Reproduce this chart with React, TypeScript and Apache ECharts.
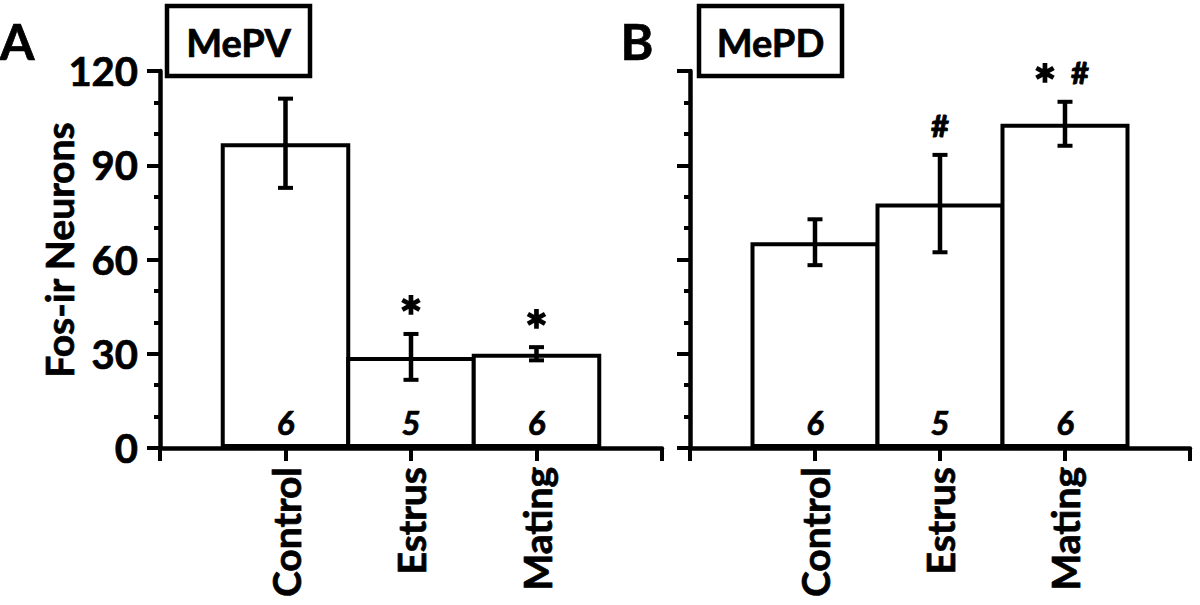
import React, { useEffect, useRef } from 'react';
import * as echarts from 'echarts';

// ---- data ----
const categories = ['Control', 'Estrus', 'Mating'];
const mepvMeans = [97, 29, 30];
const mepvSem = [14.2, 7.3, 2.1];
const mepdMeans = [65.5, 77.8, 103.2];
const mepdSem = [7.3, 15.5, 7.0];
const mepvN = [6, 5, 6];
const mepdN = [6, 5, 6];
const mepvSig = [[], ['*'], ['*']];
const mepdSig = [[], ['#'], ['*', '#']];
const yMin = 0;
const yMax = 120;
const yInterval = 30;
const panelTitles = ['MePV', 'MePD'];
const panelLetters = ['A', 'B'];
const yAxisTitle = 'Fos-ir Neurons';

const FONT = 'Lato';
const BLACK = '#000';
const HEAVY = { textBorderColor: BLACK, textBorderWidth: 0.7 };

function buildOption() {
  const panels = [
    { means: mepvMeans, sem: mepvSem, n: mepvN, sig: mepvSig },
    { means: mepdMeans, sem: mepdSem, n: mepdN, sig: mepdSig },
  ];
  const grids = [
    { left: 160, top: 71, width: 502, height: 377 },
    { left: 690, top: 71, width: 500, height: 377 },
  ];
  const xAxes = grids.map((_, g) => ({
    type: 'category',
    gridIndex: g,
    data: ['', ...categories, ''],
    boundaryGap: false,
    axisLine: { show: true, lineStyle: { color: BLACK, width: 4.5 } },
    axisTick: { show: true, interval: 0, length: 13, lineStyle: { color: BLACK, width: 4 } },
    axisLabel: {
      interval: 0,
      rotate: 90,
      margin: 19,
      color: BLACK,
      fontFamily: FONT,
      fontWeight: 'bold',
      fontSize: 39,
      ...HEAVY,
    },
    splitLine: { show: false },
  }));
  const yAxes = grids.map((_, g) => ({
    type: 'value',
    gridIndex: g,
    min: yMin,
    max: yMax,
    interval: yInterval,
    name: g === 0 ? yAxisTitle : '',
    nameLocation: 'middle',
    nameRotate: 90,
    nameGap: 82,
    nameMoveOverlap: false,
    nameTextStyle: {
      color: BLACK,
      fontFamily: FONT,
      fontWeight: 'bold',
      fontSize: 39,
      padding: [0, 0, 0, 19],
      ...HEAVY,
    },
    axisLine: { show: true, lineStyle: { color: BLACK, width: 4.5 } },
    axisTick: { show: true, length: 13, lineStyle: { color: BLACK, width: 4 } },
    minorTick: { show: true, splitNumber: 3, length: 6, lineStyle: { color: BLACK, width: 4 } },
    splitLine: { show: false },
    axisLabel: {
      show: g === 0,
      margin: 22,
      color: BLACK,
      fontFamily: FONT,
      fontWeight: 'bold',
      fontSize: 40,
      ...HEAVY,
    },
  }));

  const series: any[] = [];
  panels.forEach((p, g) => {
    series.push({
      type: 'bar',
      xAxisIndex: g,
      yAxisIndex: g,
      data: ['-', ...p.means, '-'],
      barWidth: '103.2%',
      silent: true,
      itemStyle: { color: '#fff', borderColor: BLACK, borderWidth: 4 },
      label: {
        show: true,
        position: 'insideBottom',
        distance: 10,
        formatter: (params: any) => String(p.n[params.dataIndex - 1]),
        color: BLACK,
        fontFamily: FONT,
        fontWeight: 'bold',
        fontStyle: 'italic',
        fontSize: 33,
        ...HEAVY,
      },
      z: 2,
    });
    series.push({
      type: 'custom',
      xAxisIndex: g,
      yAxisIndex: g,
      silent: true,
      z: 3,
      data: p.means.map((m, i) => [i + 1, m, p.sem[i]]),
      encode: { x: 0, y: 1 },
      renderItem: (params: any, api: any) => {
        const x = api.value(0);
        const m = api.value(1);
        const s = api.value(2);
        const top = api.coord([x, m + s]);
        const bot = api.coord([x, m - s]);
        const cap = 7.5;
        const children: any[] = [
          { type: 'line', shape: { x1: top[0], y1: top[1], x2: bot[0], y2: bot[1] }, style: { stroke: BLACK, lineWidth: 4.5 } },
          { type: 'line', shape: { x1: top[0] - cap, y1: top[1], x2: top[0] + cap, y2: top[1] }, style: { stroke: BLACK, lineWidth: 4 } },
          { type: 'line', shape: { x1: bot[0] - cap, y1: bot[1], x2: bot[0] + cap, y2: bot[1] }, style: { stroke: BLACK, lineWidth: 4 } },
        ];
        const syms = p.sig[params.dataIndex];
        syms.forEach((sym: string, k: number) => {
          const dx = syms.length > 1 ? (k === 0 ? -20 : 15) : 0;
          const isStar = sym === '*';
          children.push({
            type: 'text',
            x: top[0] + dx,
            y: top[1] - 30 + (isStar ? 12 : 0),
            style: {
              text: sym,
              align: 'center',
              verticalAlign: 'middle',
              fill: BLACK,
              fontFamily: FONT,
              fontWeight: 'bold',
              fontSize: isStar ? 54 : 31,
              stroke: BLACK,
              lineWidth: isStar ? 1.5 : 1,
            },
          });
        });
        return { type: 'group', children };
      },
    });
  });

  const boxes = [
    { x: 167, y: 6, w: 143, h: 70 },
    { x: 699, y: 6, w: 143, h: 70 },
  ];
  const letterPos = [
    { x: 17, y: 41 },
    { x: 637, y: 41 },
  ];
  const graphic: any[] = [];
  boxes.forEach((b, i) => {
    graphic.push({
      type: 'rect',
      shape: { x: b.x, y: b.y, width: b.w, height: b.h },
      style: { fill: '#fff', stroke: BLACK, lineWidth: 4.5 },
      z: 10,
    });
    graphic.push({
      type: 'text',
      x: b.x + b.w / 2,
      y: b.y + b.h / 2 + 1,
      style: {
        text: panelTitles[i],
        align: 'center',
        verticalAlign: 'middle',
        fill: BLACK,
        fontFamily: FONT,
        fontWeight: 'bold',
        fontSize: 38,
        stroke: BLACK,
        lineWidth: 0.7,
      },
      z: 11,
    });
    graphic.push({
      type: 'text',
      x: letterPos[i].x,
      y: letterPos[i].y,
      style: {
        text: panelLetters[i],
        align: 'center',
        verticalAlign: 'middle',
        fill: BLACK,
        fontFamily: FONT,
        fontWeight: 'bold',
        fontSize: 50,
        stroke: BLACK,
        lineWidth: 0.7,
      },
      z: 11,
    });
  });

  return {
    animation: false,
    backgroundColor: '#fff',
    grid: grids,
    xAxis: xAxes,
    yAxis: yAxes,
    series,
    graphic,
  };
}

export default function App() {
  const ref = useRef<HTMLDivElement>(null);
  useEffect(() => {
    if (!ref.current) return;
    const chart = echarts.init(ref.current, undefined, { renderer: 'svg' });
    chart.setOption(buildOption() as any);
    return () => chart.dispose();
  }, []);
  return (
    <div
      ref={ref}
      style={{ position: 'fixed', left: 0, top: 0, width: 1200, height: 605, background: '#fff' }}
    />
  );
}
